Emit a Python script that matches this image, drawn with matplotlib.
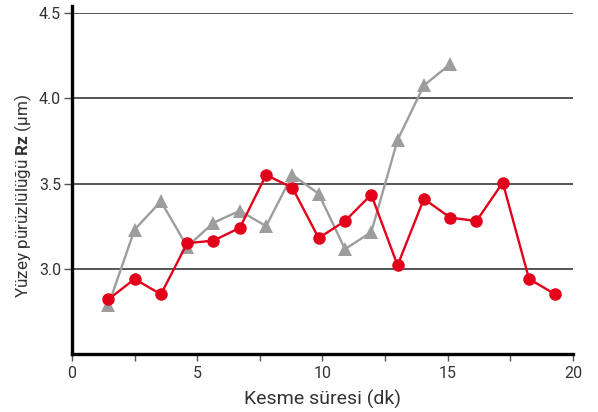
import matplotlib.pyplot as plt
from matplotlib.ticker import MultipleLocator

plt.rcParams["font.family"] = ["Roboto", "DejaVu Sans"]
plt.rcParams["mathtext.fontset"] = "custom"
plt.rcParams["mathtext.rm"] = "Roboto"
plt.rcParams["mathtext.bf"] = "Roboto:bold"

# red series (circles)
red_x = [1.45, 2.5, 3.55, 4.6, 5.65, 6.7, 7.75, 8.8, 9.85, 10.9, 11.95, 13.0,
         14.05, 15.1, 16.15, 17.2, 18.25, 19.3]
red_y = [2.82, 2.94, 2.85, 3.15, 3.165, 3.24, 3.55, 3.475, 3.18, 3.28, 3.435, 3.02,
         3.41, 3.30, 3.28, 3.505, 2.94, 2.85]

# gray series (triangles)
gray_x = [1.45, 2.5, 3.55, 4.6, 5.65, 6.7, 7.75, 8.8, 9.85, 10.9, 11.95, 13.0,
          14.05, 15.1]
gray_y = [2.785, 3.23, 3.395, 3.13, 3.27, 3.34, 3.25, 3.55, 3.44, 3.115, 3.215,
          3.755, 4.075, 4.20]

x_major = [0, 5, 10, 15, 20]
y_major = [3.0, 3.5, 4.0, 4.5]

fig = plt.figure(figsize=(5.98, 4.12), dpi=100)
ax = fig.add_axes([0.1204, 0.1408, 0.8376, 0.8276])

for y in y_major:
    ax.axhline(y, color="#555555", lw=1.4, zorder=1)

ax.plot(gray_x, gray_y, color="#9d9d9d", lw=1.7, marker="^", ms=9.5,
        markeredgewidth=0, zorder=3)
ax.plot(red_x, red_y, color="#e2001a", lw=1.7, marker="o", ms=9,
        markeredgewidth=0, zorder=4)

ax.set_xlim(0, 20)
ax.set_ylim(2.5, 4.5)
ax.set_xticks(x_major)
ax.xaxis.set_minor_locator(MultipleLocator(2.5))
ax.set_yticks(y_major)
ax.set_yticklabels([f"{v:.1f}" for v in y_major])

for s in ["top", "right"]:
    ax.spines[s].set_visible(False)
ax.spines["left"].set_linewidth(2.4)
ax.spines["bottom"].set_linewidth(2.4)
ax.spines["left"].set_bounds(2.5, 4.54)

ax.tick_params(axis="x", which="both", length=5, width=1, color="#555555",
               labelsize=11.5, labelcolor="#333333", pad=4)
ax.tick_params(axis="y", which="both", length=6, width=1, color="#555555",
               labelsize=11.5, labelcolor="#333333", pad=2)

fig.text(322.5 / 598, 1 - 399 / 412, "Kesme süresi (dk)", fontsize=14,
         color="#333333", ha="center", va="center")
fig.text(23 / 598, 1 - 196 / 412, "Yüzey pürüzlülüğü $\\mathbf{Rz}$ (µm)",
         fontsize=12.3, color="#333333", ha="center", va="center", rotation=90)

fig.savefig("out.png", dpi=100)
